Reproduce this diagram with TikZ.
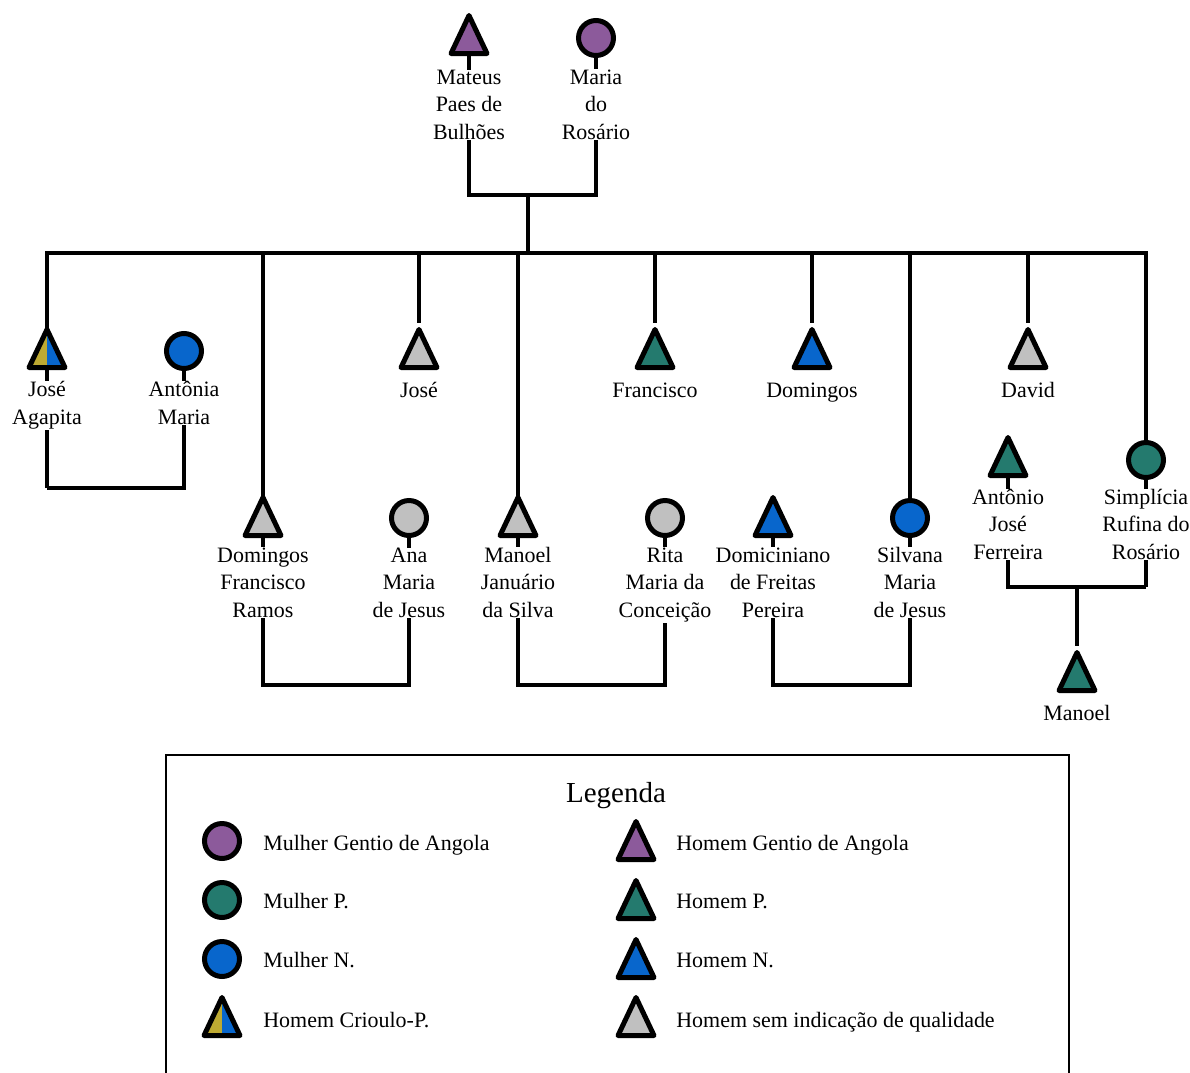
\documentclass[tikz,border=0pt]{standalone}
\usepackage{fontspec}
\setmainfont{Liberation Serif}
\usetikzlibrary{shapes.geometric,backgrounds}

\definecolor{roxo}{RGB}{140,90,155}
\definecolor{verde}{RGB}{36,122,110}
\definecolor{azul}{RGB}{8,102,204}
\definecolor{cinza}{RGB}{192,192,192}
\definecolor{ouro}{RGB}{190,170,50}

\tikzset{
  homem/.style={draw,line width=0.1cm,line join=round,isosceles triangle,
    shape border rotate=90,isosceles triangle stretches,
    minimum width=0.72cm,minimum height=0.76cm,inner sep=0pt,anchor=south},
  mulher/.style={draw,line width=0.1cm,circle,minimum size=0.7cm,inner sep=0pt},
  crioulo/.style={homem,fill=azul,path picture={
    \fill[ouro] (path picture bounding box.south west) rectangle (path picture bounding box.north);}},
  % ancorado na linha de base da ultima linha
  rotulo/.style={align=center,fill=white,inner sep=0.5pt,anchor=base,
    font=\fontsize{12.5}{15.4}\selectfont},
  legenda/.style={anchor=base west,inner sep=0pt,font=\fontsize{12.5}{15.4}\selectfont},
  linha/.style={line width=0.09cm}
}

\begin{document}
\begin{tikzpicture}[x=0.02cm,y=-0.02cm]
\useasboundingbox (0,0) rectangle (1190,1072);

% pais
\node[homem,fill=roxo] (mateus) at (469,56) {};
\node[mulher,fill=roxo] (maria) at (596,38) {};
\node[rotulo] (mateusr) at (469,139) {Mateus\\Paes de\\Bulhões};
\node[rotulo] (mariar) at (596,139) {Maria\\do\\Rosário};
\coordinate (casal0) at (528,195);
\coordinate (irmaos) at (528,253);

% filhos
\node[crioulo] (joseag) at (47,370) {};
\node[mulher,fill=azul] (antonia) at (184,351) {};
\node[homem,fill=cinza] (jose) at (419,370) {};
\node[homem,fill=verde] (francisco) at (655,370) {};
\node[homem,fill=azul] (domingos) at (812,370) {};
\node[homem,fill=cinza] (david) at (1028,370) {};
\node[rotulo] (joseagr) at (47,424) {José\\Agapita};
\node[rotulo] (antoniar) at (184,424) {Antônia\\Maria};
\node[rotulo] (joser) at (419,397) {José};
\node[rotulo] (franciscor) at (655,397) {Francisco};
\node[rotulo] (domingosr) at (812,397) {Domingos};
\node[rotulo] (davidr) at (1028,397) {David};

\node[homem,fill=cinza] (domfr) at (263,538) {};
\node[mulher,fill=cinza] (ana) at (409,518) {};
\node[homem,fill=cinza] (manoel) at (518,538) {};
\node[mulher,fill=cinza] (rita) at (665,518) {};
\node[homem,fill=azul] (domiciniano) at (773,538) {};
\node[mulher,fill=azul] (silvana) at (910,518) {};
\node[rotulo] (domfrr) at (263,617) {Domingos\\Francisco\\Ramos};
\node[rotulo] (anar) at (409,617) {Ana\\Maria\\de Jesus};
\node[rotulo] (manoelr) at (518,617) {Manoel\\Januário\\da Silva};
\node[rotulo] (ritar) at (665,617) {Rita\\Maria da\\Conceição};
\node[rotulo] (domicinianor) at (773,617) {Domiciniano\\de Freitas\\Pereira};
\node[rotulo] (silvanar) at (910,617) {Silvana\\Maria\\de Jesus};

\node[homem,fill=verde] (antonio) at (1008,478) {};
\node[mulher,fill=verde] (simplicia) at (1146,460) {};
\node[rotulo] (antonior) at (1008,559) {Antônio\\José\\Ferreira};
\node[rotulo] (simpliciar) at (1146,559) {Simplícia\\Rufina do\\Rosário};
\node[homem,fill=verde] (neto) at (1077,693) {};
\node[rotulo] (netor) at (1077,720) {Manoel};

\coordinate (casal1) at (115,488);
\coordinate (casal2) at (590,685);
\coordinate (casal3) at (1077,587);

\begin{scope}[on background layer]
\draw[linha] (mateus) -- (mateus |- casal0) -- (maria |- casal0) -- (maria);
\draw[linha] (casal0) -- (irmaos);
\draw[linha] (joseag |- casal1) -- (joseag |- irmaos) -- (simplicia |- irmaos) -- (simplicia |- casal3);
\draw[linha] (joseag |- casal1) -- (antonia |- casal1) -- (antonia);
\foreach \f in {jose,francisco,domingos,david}
  \draw[linha] (\f |- irmaos) -- (\f);
\draw[linha] (domfr |- irmaos) -- (domfr |- casal2) -- (ana |- casal2) -- (ana);
\draw[linha] (manoel |- irmaos) -- (manoel |- casal2) -- (rita |- casal2) -- (rita);
\draw[linha] (silvana |- irmaos) -- (silvana |- casal2) -- (domiciniano |- casal2) -- (domiciniano);
\draw[linha] (simplicia |- casal3) -- (antonio |- casal3) -- (antonio);
\draw[linha] (casal3) -- (neto);
\end{scope}

% legenda
\draw[line width=0.03cm] (166,755) rectangle (1069,1090);
\node[anchor=base,inner sep=0pt,font=\fontsize{16.5}{20}\selectfont] (titulo) at (616,802) {Legenda};
\node[mulher,fill=roxo] (lg1) at (222,841) {};
\node[mulher,fill=verde] (lg2) at (222,900) {};
\node[mulher,fill=azul] (lg3) at (222,959) {};
\node[crioulo] (lg4) at (222,1038) {};
\node[legenda] (lt1) at (263,850) {Mulher Gentio de Angola};
\node[legenda] (lt2) at (263,908) {Mulher P.};
\node[legenda] (lt3) at (263,967) {Mulher N.};
\node[legenda] (lt4) at (263,1027) {Homem Crioulo-P.};
\node[homem,fill=roxo] (lg5) at (636,862) {};
\node[homem,fill=verde] (lg6) at (636,921) {};
\node[homem,fill=azul] (lg7) at (636,980) {};
\node[homem,fill=cinza] (lg8) at (636,1038) {};
\node[legenda] (lt5) at (676,850) {Homem Gentio de Angola};
\node[legenda] (lt6) at (676,908) {Homem P.};
\node[legenda] (lt7) at (676,967) {Homem N.};
\node[legenda] (lt8) at (676,1027) {Homem sem indicação de qualidade};
\end{tikzpicture}
\end{document}
